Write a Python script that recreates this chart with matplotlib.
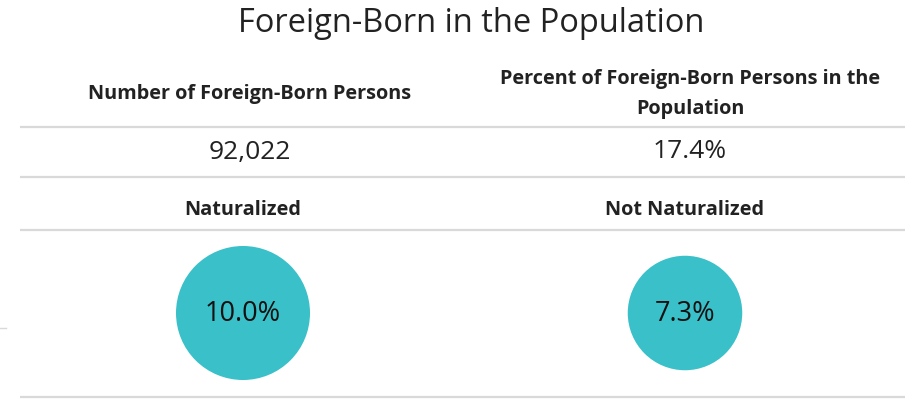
import matplotlib.pyplot as plt
import numpy as np
from matplotlib.patches import Circle

plt.rcParams['font.family'] = ['Open Sans', 'DejaVu Sans']

title = "Foreign-Born in the Population"
headers = ["Number of Foreign-Born Persons",
           "Percent of Foreign-Born Persons in the\nPopulation"]
header_values = ["92,022", "17.4%"]
groups = ["Naturalized", "Not Naturalized"]
group_pct = [10.0, 7.3]

col_x = [250, 690]
circ_x = [243, 685]
teal = "#39c0c8"
rule = "#d9d9d9"

fig = plt.figure(figsize=(9.14, 4.01), dpi=100, facecolor="white")
ax = fig.add_axes([0, 0, 1, 1])
ax.set_xlim(0, 914)
ax.set_ylim(401, 0)
ax.set_aspect("equal")
ax.axis("off")

ax.text(471, 24, title, ha="center", va="center", fontsize=23.5, color="#222222")

# header row
for x, h in zip(col_x, headers):
    ax.text(x, 94, h, ha="center", va="center", fontsize=14.3,
            fontweight="bold", color="#222222", linespacing=1.66)
for x, v in zip(col_x, header_values):
    ax.text(x, 152, v, ha="center", va="center", fontsize=19, color="#222222")
for x, g in zip(circ_x, groups):
    ax.text(x, 210, g, ha="center", va="center", fontsize=14.3,
            fontweight="bold", color="#222222")

# horizontal rules
for y in [127, 177, 230, 397]:
    ax.plot([20, 905], [y, y], color=rule, lw=1.6, solid_capstyle="butt")
ax.plot([0, 6], [328, 328], color=rule, lw=1)

# circles sized by area
rmax = 67
for x, p in zip(circ_x, group_pct):
    r = rmax * np.sqrt(p / max(group_pct))
    ax.add_patch(Circle((x, 313), r, color=teal, lw=0))
    ax.text(x, 314, "{:.1f}%".format(p), ha="center", va="center",
            fontsize=19.5, color="#111111")

fig.savefig("out.png", dpi=100, facecolor="white")
